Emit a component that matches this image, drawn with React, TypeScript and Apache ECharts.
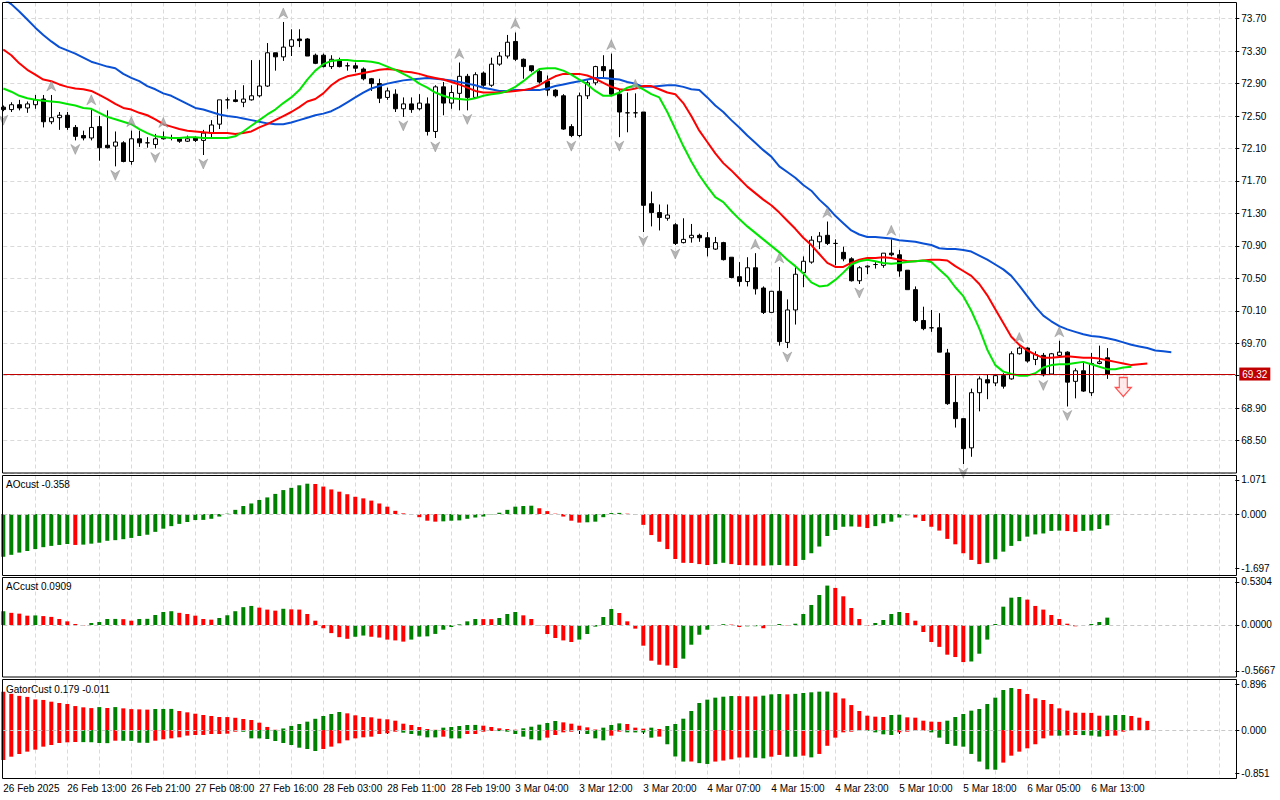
import React, { useEffect, useRef } from "react";
import * as echarts from "echarts";

// ---------- data ----------
const timeLabels = [
  "26 Feb 2025", "26 Feb 13:00", "26 Feb 21:00", "27 Feb 08:00", "27 Feb 16:00",
  "28 Feb 03:00", "28 Feb 11:00", "28 Feb 19:00", "3 Mar 04:00", "3 Mar 12:00",
  "3 Mar 20:00", "4 Mar 07:00", "4 Mar 15:00", "4 Mar 23:00", "5 Mar 10:00",
  "5 Mar 18:00", "6 Mar 05:00", "6 Mar 13:00",
];
const LABEL_STEP = 8; // one time label every 8 bars
const GRID_STEP = 4; // one vertical grid line every 4 bars
const SLOT_COUNT = 155; // bar slots on the time axis (incl. empty future slots)

// [open, high, low, close]
const ohlc: [number, number, number, number][] = [
  [72.61, 72.63, 72.56, 72.58], [72.58, 72.67, 72.55, 72.64], [72.64, 72.70, 72.57, 72.60], [72.60, 72.68, 72.54, 72.65],
  [72.64, 72.76, 72.59, 72.70], [72.71, 72.76, 72.36, 72.43], [72.43, 72.76, 72.40, 72.48], [72.48, 72.55, 72.33, 72.51],
  [72.51, 72.55, 72.33, 72.36], [72.36, 72.39, 72.20, 72.25], [72.26, 72.32, 72.20, 72.23], [72.23, 72.59, 72.20, 72.36],
  [72.37, 72.50, 71.95, 72.11], [72.14, 72.57, 72.10, 72.11], [72.13, 72.31, 71.88, 72.18], [72.17, 72.19, 71.93, 71.94],
  [71.94, 72.32, 71.90, 72.22], [72.22, 72.32, 72.12, 72.17], [72.17, 72.24, 72.11, 72.17], [72.15, 72.28, 72.10, 72.22],
  [72.24, 72.31, 72.21, 72.22], [72.23, 72.27, 72.20, 72.23], [72.22, 72.24, 72.17, 72.19], [72.19, 72.26, 72.18, 72.22],
  [72.23, 72.25, 72.18, 72.20], [72.20, 72.33, 72.02, 72.29], [72.29, 72.45, 72.24, 72.39], [72.40, 72.70, 72.34, 72.70],
  [72.70, 72.73, 72.59, 72.70], [72.70, 72.82, 72.67, 72.68], [72.67, 72.88, 72.61, 72.71], [72.70, 73.19, 72.69, 72.75],
  [72.75, 73.19, 72.73, 72.87], [72.87, 73.40, 72.86, 73.28], [73.28, 73.28, 73.06, 73.23], [73.23, 73.66, 73.18, 73.35],
  [73.36, 73.57, 73.24, 73.44], [73.45, 73.57, 73.35, 73.43], [73.45, 73.46, 73.24, 73.24], [73.25, 73.27, 73.14, 73.15],
  [73.25, 73.27, 73.10, 73.11], [73.11, 73.25, 73.08, 73.20], [73.18, 73.22, 73.10, 73.11], [73.12, 73.16, 73.06, 73.12],
  [73.12, 73.16, 73.04, 73.09], [73.08, 73.10, 72.94, 72.96], [72.96, 72.97, 72.81, 72.90], [72.90, 72.96, 72.66, 72.72],
  [72.73, 72.85, 72.70, 72.81], [72.77, 72.83, 72.55, 72.59], [72.59, 72.73, 72.49, 72.65], [72.65, 72.73, 72.54, 72.58],
  [72.59, 72.77, 72.57, 72.66], [72.65, 72.73, 72.26, 72.31], [72.31, 72.88, 72.23, 72.86], [72.86, 72.92, 72.51, 72.66],
  [72.66, 72.88, 72.59, 72.79], [72.78, 73.16, 72.57, 72.99], [72.99, 73.02, 72.57, 72.73], [72.73, 73.04, 72.73, 73.01],
  [73.03, 73.05, 72.86, 72.88], [72.88, 73.22, 72.86, 73.14], [73.14, 73.29, 73.12, 73.24], [73.24, 73.50, 73.21, 73.41],
  [73.42, 73.53, 73.18, 73.20], [73.20, 73.21, 72.96, 73.11], [73.12, 73.12, 73.04, 73.06], [73.05, 73.08, 72.90, 72.92],
  [72.93, 73.00, 72.75, 72.82], [72.82, 72.83, 72.73, 72.75], [72.75, 72.77, 72.33, 72.34], [72.37, 72.40, 72.24, 72.26],
  [72.26, 72.79, 72.24, 72.75], [72.75, 72.94, 72.71, 72.91], [72.91, 73.12, 72.88, 73.11], [73.11, 73.25, 72.96, 73.06],
  [73.07, 73.27, 72.75, 72.77], [72.77, 72.83, 72.24, 72.55], [72.54, 72.79, 72.30, 72.54], [72.54, 72.78, 72.48, 72.54],
  [72.55, 72.55, 71.07, 71.40], [71.42, 71.57, 71.14, 71.31], [71.31, 71.41, 71.09, 71.25], [71.24, 71.41, 71.21, 71.28],
  [71.16, 71.18, 70.91, 70.93], [70.94, 71.24, 70.93, 70.98], [71.00, 71.17, 70.94, 71.03], [71.03, 71.05, 70.95, 71.00],
  [71.00, 71.07, 70.77, 70.88], [70.86, 71.01, 70.85, 70.94], [70.94, 70.95, 70.72, 70.73], [70.76, 70.76, 70.50, 70.51],
  [70.52, 70.70, 70.40, 70.46], [70.46, 70.76, 70.40, 70.63], [70.63, 70.81, 70.30, 70.37], [70.38, 70.40, 70.06, 70.08],
  [70.08, 70.34, 70.08, 70.34], [70.34, 70.64, 69.67, 69.72], [69.71, 70.24, 69.64, 70.11], [70.11, 70.64, 69.93, 70.55],
  [70.57, 70.77, 70.39, 70.71], [70.70, 71.02, 70.68, 70.97], [70.95, 71.07, 70.86, 71.02], [71.03, 71.20, 70.91, 70.93],
  [70.93, 70.98, 70.66, 70.93], [70.82, 70.89, 70.71, 70.74], [70.74, 70.76, 70.46, 70.47], [70.47, 70.65, 70.43, 70.63],
  [70.64, 70.66, 70.55, 70.65], [70.67, 70.70, 70.62, 70.67], [70.66, 70.81, 70.63, 70.81], [70.81, 70.98, 70.77, 70.79],
  [70.79, 70.85, 70.52, 70.59], [70.60, 70.60, 70.36, 70.36], [70.36, 70.40, 69.96, 69.98], [69.98, 70.15, 69.86, 69.88],
  [69.89, 70.11, 69.84, 69.89], [69.89, 70.07, 69.59, 69.59], [69.58, 69.63, 68.94, 68.955], [68.97, 69.30, 68.66, 68.77],
  [68.77, 68.77, 68.21, 68.40], [68.41, 69.14, 68.30, 69.09], [69.09, 69.29, 68.86, 69.26], [69.25, 69.31, 69.01, 69.21],
  [69.21, 69.32, 69.17, 69.30], [69.30, 69.33, 69.14, 69.17], [69.26, 69.60, 69.25, 69.57], [69.57, 69.66, 69.56, 69.64],
  [69.64, 69.65, 69.46, 69.48], [69.50, 69.60, 69.43, 69.56], [69.55, 69.58, 69.29, 69.31], [69.32, 69.58, 69.31, 69.57],
  [69.55, 69.73, 69.54, 69.59], [69.59, 69.60, 68.92, 69.22], [69.23, 69.39, 69.02, 69.36], [69.36, 69.48, 69.10, 69.11],
  [69.09, 69.58, 69.05, 69.45], [69.45, 69.67, 69.44, 69.47], [69.52, 69.64, 69.26, 69.32],
];

// Alligator lines (already shifted forward)
const jaw = [
  73.95, 73.88, 73.79, 73.69, 73.59, 73.50, 73.42, 73.35, 73.31, 73.27,
  73.22, 73.17, 73.14, 73.11, 73.09, 73.02, 72.97, 72.93, 72.87, 72.83,
  72.78, 72.75, 72.70, 72.65, 72.60, 72.58, 72.55, 72.52, 72.50, 72.49,
  72.47, 72.45, 72.43, 72.41, 72.40, 72.40, 72.42, 72.45, 72.48, 72.51,
  72.53, 72.56, 72.61, 72.67, 72.73, 72.79, 72.84, 72.87, 72.90, 72.92,
  72.94, 72.95, 72.96, 72.97, 72.96, 72.95, 72.94, 72.92, 72.90, 72.88,
  72.85, 72.83, 72.81, 72.81, 72.82, 72.82, 72.82, 72.82, 72.84, 72.87,
  72.89, 72.91, 72.93, 72.95, 72.97, 72.97, 72.96, 72.95, 72.92, 72.90,
  72.86, 72.86, 72.87, 72.88, 72.88, 72.86, 72.83, 72.82, 72.73, 72.63,
  72.55, 72.45, 72.36, 72.26, 72.17, 72.08, 72.00, 71.88, 71.81, 71.74,
  71.65, 71.58, 71.47, 71.38, 71.27, 71.18, 71.09, 71.04, 71.01, 71.01,
  71.00, 70.99, 70.97, 70.96, 70.95, 70.93, 70.91, 70.87, 70.86, 70.86,
  70.85, 70.83, 70.78, 70.73, 70.67, 70.61, 70.53, 70.41, 70.28, 70.15,
  70.04, 69.97, 69.91, 69.87, 69.84, 69.81, 69.79, 69.78, 69.76, 69.74,
  69.71, 69.68, 69.66, 69.64, 69.61, 69.60, 69.59,
];
const teeth = [
  73.32, 73.25, 73.15, 73.07, 73.01, 72.95, 72.93, 72.89, 72.86, 72.84,
  72.83, 72.81, 72.76, 72.71, 72.65, 72.60, 72.58, 72.54, 72.51, 72.46,
  72.40, 72.37, 72.34, 72.32, 72.31, 72.30, 72.29, 72.29, 72.29, 72.28,
  72.29, 72.31, 72.36, 72.40, 72.45, 72.50, 72.55, 72.61, 72.68, 72.71,
  72.78, 72.88, 72.95, 72.99, 73.01, 73.03, 73.05, 73.07, 73.08, 73.07,
  73.05, 73.04, 73.02, 72.99, 72.97, 72.95, 72.92, 72.89, 72.85, 72.81,
  72.79, 72.79, 72.79, 72.80, 72.81, 72.82, 72.84, 72.88, 72.94, 72.99,
  73.02, 73.02, 73.02, 73.00, 72.96, 72.91, 72.86, 72.83, 72.82, 72.84,
  72.87, 72.87, 72.83, 72.79, 72.77, 72.66, 72.50, 72.32, 72.18, 72.04,
  71.92, 71.83, 71.73, 71.63, 71.55, 71.47, 71.40, 71.31, 71.21, 71.11,
  71.00, 70.91, 70.80, 70.69, 70.64, 70.64, 70.69, 70.73, 70.75, 70.75,
  70.76, 70.75, 70.73, 70.71, 70.71, 70.72, 70.73, 70.73, 70.72, 70.65,
  70.59, 70.53, 70.43, 70.29, 70.12, 69.95, 69.78, 69.68, 69.61, 69.56,
  69.52, 69.52, 69.53, 69.54, 69.53, 69.52, 69.52, 69.51, 69.49, 69.47,
  69.45, 69.43, 69.44, 69.45,
];
const lips = [
  72.84, 72.80, 72.75, 72.72, 72.70, 72.69, 72.68, 72.67, 72.65, 72.63,
  72.60, 72.59, 72.54, 72.49, 72.46, 72.43, 72.40, 72.34, 72.29, 72.25,
  72.24, 72.23, 72.23, 72.24, 72.24, 72.23, 72.23, 72.23, 72.23, 72.25,
  72.31, 72.38, 72.45, 72.52, 72.58, 72.66, 72.73, 72.82, 72.95, 73.06,
  73.14, 73.18, 73.19, 73.19, 73.18, 73.18, 73.17, 73.15, 73.11, 73.07,
  73.02, 72.97, 72.90, 72.85, 72.79, 72.75, 72.72, 72.71, 72.70, 72.72,
  72.75, 72.77, 72.78, 72.81, 72.86, 72.93, 73.01, 73.08, 73.09, 73.09,
  73.06, 73.01, 72.95, 72.89, 72.81, 72.75, 72.75, 72.79, 72.85, 72.88,
  72.83, 72.77, 72.73, 72.55, 72.34, 72.13, 71.94, 71.77, 71.63, 71.50,
  71.44, 71.33, 71.23, 71.14, 71.06, 70.98, 70.90, 70.82, 70.73, 70.65,
  70.56, 70.45, 70.40, 70.41, 70.48, 70.57, 70.67, 70.71, 70.73, 70.71,
  70.69, 70.68, 70.69, 70.70, 70.71, 70.72, 70.70, 70.61, 70.52, 70.39,
  70.28, 70.10, 69.88, 69.62, 69.43, 69.35, 69.32, 69.30, 69.30, 69.33,
  69.40, 69.43, 69.44, 69.44, 69.455, 69.47, 69.44, 69.41, 69.38, 69.38,
  69.40, 69.41,
];

const fractalUpBars = [6, 11, 16, 20, 35, 57, 64, 76, 79, 94, 97, 103, 111, 127, 132];
const fractalDownBars = [0, 9, 14, 19, 25, 50, 54, 58, 71, 77, 80, 84, 98, 107, 120, 130, 133];
const lastPrice = 69.32;
const signalBar = 140;
const signalPrice = 69.16;

const ao = [
  -1.34, -1.28, -1.21, -1.16, -1.10, -1.04, -1.00, -0.97, -0.94, -0.97,
  -0.96, -0.93, -0.90, -0.84, -0.82, -0.79, -0.75, -0.69, -0.65, -0.56,
  -0.46, -0.38, -0.31, -0.25, -0.19, -0.185, -0.15, -0.08, 0.01, 0.13,
  0.25, 0.33, 0.44, 0.52, 0.63, 0.75, 0.82, 0.90, 0.95, 0.94,
  0.86, 0.77, 0.70, 0.62, 0.54, 0.49, 0.42, 0.33, 0.23, 0.10,
  0.02, -0.01, -0.10, -0.21, -0.24, -0.23, -0.21, -0.20, -0.15, -0.11,
  -0.08, -0.01, 0.04, 0.13, 0.23, 0.25, 0.26, 0.18, 0.09, 0.01,
  -0.08, -0.21, -0.27, -0.26, -0.24, -0.10, 0.03, 0.035, 0.01, -0.02,
  -0.34, -0.66, -0.87, -1.10, -1.41, -1.53, -1.535, -1.57, -1.60, -1.57,
  -1.53, -1.57, -1.60, -1.605, -1.61, -1.62, -1.61, -1.60, -1.62, -1.63,
  -1.44, -1.23, -1.02, -0.69, -0.50, -0.40, -0.39, -0.40, -0.44, -0.38,
  -0.29, -0.24, -0.11, -0.04, -0.11, -0.22, -0.40, -0.52, -0.78, -0.95,
  -1.23, -1.44, -1.57, -1.53, -1.42, -1.18, -1.00, -0.85, -0.71, -0.64,
  -0.61, -0.53, -0.52, -0.535, -0.56, -0.53, -0.52, -0.47, -0.358,
];
const ac = [
  0.17, 0.15, 0.14, 0.115, 0.118, 0.11, 0.10, 0.074, 0.045, 0.012,
  -0.005, 0.025, 0.037, 0.074, 0.075, 0.072, 0.053, 0.074, 0.076, 0.123,
  0.16, 0.17, 0.15, 0.136, 0.115, 0.074, 0.066, 0.086, 0.12, 0.17,
  0.22, 0.235, 0.214, 0.19, 0.177, 0.20, 0.193, 0.19, 0.136, 0.053,
  -0.04, -0.10, -0.15, -0.17, -0.145, -0.13, -0.145, -0.155, -0.18, -0.19,
  -0.205, -0.18, -0.144, -0.14, -0.11, -0.058, -0.025, 0.008, 0.045, 0.074,
  0.073, 0.072, 0.086, 0.136, 0.16, 0.119, 0.074, -0.004, -0.111, -0.16,
  -0.19, -0.21, -0.18, -0.111, -0.02, 0.099, 0.197, 0.148, 0.045, -0.045,
  -0.255, -0.44, -0.49, -0.50, -0.53, -0.415, -0.243, -0.12, -0.058, 0.0,
  0.01, 0.005, -0.025, -0.016, -0.015, -0.04, -0.004, 0.012, -0.004, 0.016,
  0.136, 0.247, 0.37, 0.486, 0.457, 0.354, 0.21, 0.074, -0.008, 0.025,
  0.062, 0.136, 0.16, 0.148, 0.053, -0.086, -0.21, -0.27, -0.366, -0.395,
  -0.457, -0.45, -0.354, -0.18, 0.012, 0.226, 0.337, 0.345, 0.313, 0.235,
  0.19, 0.123, 0.074, 0.016, -0.016, 0.0, 0.012, 0.037, 0.0909,
];
const gatorUp = [
  0.75, 0.71, 0.67, 0.65, 0.60, 0.59, 0.556, 0.53, 0.51, 0.47,
  0.445, 0.43, 0.45, 0.432, 0.45, 0.425, 0.41, 0.405, 0.40, 0.412,
  0.413, 0.414, 0.373, 0.347, 0.32, 0.295, 0.275, 0.255, 0.254, 0.24,
  0.216, 0.196, 0.144, 0.06, 0.005, 0.03, 0.08, 0.118, 0.164, 0.22,
  0.275, 0.314, 0.353, 0.327, 0.288, 0.255, 0.249, 0.222, 0.21, 0.183,
  0.124, 0.098, 0.059, 0.02, 0.004, 0.046, 0.059, 0.079, 0.098, 0.10,
  0.085, 0.059, 0.033, 0.02, 0.005, 0.033, 0.065, 0.105, 0.137, 0.177,
  0.15, 0.124, 0.085, 0.052, 0.01, 0.046, 0.098, 0.13, 0.118, 0.046,
  0.026, 0.046, 0.02, 0.079, 0.118, 0.222, 0.373, 0.53, 0.596, 0.635,
  0.654, 0.667, 0.666, 0.661, 0.659, 0.674, 0.70, 0.707, 0.70, 0.71,
  0.726, 0.74, 0.753, 0.755, 0.733, 0.62, 0.49, 0.373, 0.281, 0.262,
  0.255, 0.295, 0.30, 0.249, 0.242, 0.183, 0.164, 0.160, 0.183, 0.255,
  0.314, 0.38, 0.412, 0.51, 0.635, 0.785, 0.825, 0.805, 0.707, 0.622,
  0.589, 0.51, 0.425, 0.38, 0.34, 0.338, 0.336, 0.281, 0.283, 0.294,
  0.295, 0.275, 0.242, 0.179,
];
const gatorDown = [
  -0.589, -0.524, -0.471, -0.425, -0.386, -0.327, -0.295, -0.255, -0.242, -0.236,
  -0.238, -0.240, -0.255, -0.258, -0.210, -0.212, -0.214, -0.250, -0.252, -0.210,
  -0.183, -0.164, -0.144, -0.110, -0.098, -0.097, -0.079, -0.078, -0.072, -0.033,
  -0.035, -0.164, -0.165, -0.177, -0.216, -0.255, -0.295, -0.347, -0.373, -0.412,
  -0.373, -0.327, -0.262, -0.203, -0.164, -0.144, -0.131, -0.079, -0.065, -0.033,
  -0.052, -0.079, -0.111, -0.144, -0.145, -0.131, -0.164, -0.165, -0.079, -0.078,
  -0.033, -0.020, -0.021, -0.033, -0.079, -0.131, -0.183, -0.203, -0.150, -0.098,
  -0.046, -0.033, -0.020, -0.079, -0.164, -0.203, -0.111, -0.033, -0.046, -0.047,
  -0.048, -0.15, -0.13, -0.28, -0.52, -0.62, -0.619, -0.65, -0.667, -0.62,
  -0.60, -0.576, -0.54, -0.539, -0.545, -0.556, -0.524, -0.49, -0.524, -0.525,
  -0.504, -0.537, -0.47, -0.31, -0.15, -0.046, -0.033, -0.01, -0.02, -0.046,
  -0.085, -0.098, -0.046, -0.033, -0.02, -0.015, -0.046, -0.15, -0.275, -0.31,
  -0.327, -0.47, -0.62, -0.772, -0.78, -0.64, -0.504, -0.425, -0.36, -0.28,
  -0.164, -0.11, -0.112, -0.105, -0.098, -0.10, -0.11, -0.13, -0.12, -0.11,
  -0.033, -0.011,
];

// axis tick values
const PRICE_MIN = 68.1;
const PRICE_MAX = 73.9;
const PRICE_STEP = 0.4;
const aoTicks = [1.071, 0, -1.697];
const acTicks = [0.5304, 0, -0.5667];
const gatorTicks = [0.896, 0, -0.851];

// ---------- styling / layout ----------
const FONT = '"Liberation Sans", Arial, sans-serif';
const GREEN = "#008000";
const RED = "#ff0000";
const GRID_COLOR = "#dadada";
const X0 = 3.3;
const BAR_STEP = 8;
const BORDER_L = 2.5;
const BORDER_R = 1236.5;
const panels = [
  { top: 2.5, bottom: 473, min: PRICE_MIN, max: PRICE_MAX },
  { top: 475.5, bottom: 575.5, min: -1.928, max: 1.207 },
  { top: 577.5, bottom: 677, min: -0.6412, max: 0.5857 },
  { top: 679.5, bottom: 778.5, min: -0.9523, max: 0.9916 },
];

const categories = Array.from({ length: SLOT_COUNT }, (_, i) => String(i));
const labelInterval = (i: number) => i % LABEL_STEP === 0 && i / LABEL_STEP < timeLabels.length;
const gridInterval = (i: number) => i > 0 && i % GRID_STEP === 0;

function colored(values: number[], firstUp: boolean, useAbs: boolean) {
  return values.map((v, i) => {
    let up = firstUp;
    if (i > 0) {
      const a = useAbs ? Math.abs(v) : v;
      const b = useAbs ? Math.abs(values[i - 1]) : values[i - 1];
      up = a > b;
    }
    return { value: v, itemStyle: { color: up ? GREEN : RED } };
  });
}

function buildOption(): any {
  const grids = panels.map((p) => ({
    left: X0,
    top: p.top,
    width: BAR_STEP * (SLOT_COUNT - 1),
    height: p.bottom - p.top,
    containLabel: false,
    outerBoundsMode: "none",
    show: false,
  }));

  const xAxes = panels.map((_, gi) => ({
    type: "category",
    gridIndex: gi,
    data: categories,
    boundaryGap: false,
    axisLine: { show: false },
    axisTick:
      gi === 3
        ? { show: true, interval: labelInterval, length: 4, lineStyle: { color: "#000", width: 1 } }
        : { show: false },
    axisLabel:
      gi === 3
        ? {
            show: true,
            interval: labelInterval,
            formatter: (_v: string, i: number) =>
              i % LABEL_STEP === 0 ? timeLabels[i / LABEL_STEP] ?? "" : "",
            align: "left",
            margin: 5,
            fontFamily: FONT,
            fontSize: 10,
            color: "#000",
          }
        : { show: false },
    splitLine: {
      show: true,
      interval: gridInterval,
      lineStyle: { color: GRID_COLOR, type: [4, 3], width: 1 },
    },
  }));

  const subAxis = (gi: number, ticks: number[], digits: number) => ({
    type: "value",
    gridIndex: gi,
    position: "right",
    min: panels[gi].min,
    max: panels[gi].max,
    axisLine: { show: false },
    axisTick: { show: true, customValues: ticks, length: 4, lineStyle: { color: "#000" } },
    axisLabel: {
      show: true,
      customValues: ticks,
      formatter: (v: number) => Number(v).toFixed(digits),
      margin: 6,
      fontFamily: FONT,
      fontSize: 10,
      color: "#000",
    },
    splitLine: { show: false },
  });

  const yAxes = [
    {
      type: "value",
      gridIndex: 0,
      position: "right",
      min: PRICE_MIN,
      max: PRICE_MAX,
      interval: PRICE_STEP,
      axisLine: { show: false },
      axisTick: { show: true, length: 4, lineStyle: { color: "#000" } },
      axisLabel: {
        show: true,
        showMinLabel: false,
        showMaxLabel: false,
        formatter: (v: number) => Number(v).toFixed(2),
        margin: 6,
        fontFamily: FONT,
        fontSize: 10,
        color: "#000",
      },
      splitLine: { show: true, lineStyle: { color: GRID_COLOR, type: [4, 3], width: 1 } },
    },
    subAxis(1, aoTicks, 3),
    subAxis(2, acTicks, 4),
    subAxis(3, gatorTicks, 3),
  ];

  const zeroLine = {
    silent: true,
    symbol: ["none", "none"],
    label: { show: false },
    lineStyle: { color: "#c8c8c8", type: [4, 3], width: 1 },
    data: [{ yAxis: 0 }],
  };

  const upArrow = "path://M5,0L10,10L5,7L0,10Z";
  const downArrow = "path://M0,0L5,3L10,0L5,10Z";
  const signalArrow = "path://M4,0L12,0L12,10L16,10L8,19L0,10L4,10Z";

  const series: any[] = [
    {
      type: "candlestick",
      xAxisIndex: 0,
      yAxisIndex: 0,
      data: ohlc.map(([o, h, l, c]) => [o, c, l, h]),
      barWidth: 4,
      clip: false,
      itemStyle: {
        color: "#ffffff",
        color0: "#000000",
        borderColor: "#000000",
        borderColor0: "#000000",
        borderWidth: 1,
      },
      markLine: {
        silent: true,
        symbol: ["none", "none"],
        lineStyle: { color: "#c00000", type: "solid", width: 1 },
        label: {
          show: true,
          position: "end",
          formatter: lastPrice.toFixed(2),
          color: "#ffffff",
          backgroundColor: "#c00000",
          padding: [2, 3, 1, 3],
          distance: 4,
          fontFamily: FONT,
          fontSize: 10,
        },
        data: [{ yAxis: lastPrice }],
      },
      z: 2,
    },
    {
      type: "line",
      xAxisIndex: 0,
      yAxisIndex: 0,
      data: jaw,
      symbol: "none",
      lineStyle: { color: "#0a50d4", width: 2 },
      z: 3,
    },
    {
      type: "line",
      xAxisIndex: 0,
      yAxisIndex: 0,
      data: teeth,
      symbol: "none",
      lineStyle: { color: "#ff0000", width: 2 },
      z: 3,
    },
    {
      type: "line",
      xAxisIndex: 0,
      yAxisIndex: 0,
      data: lips,
      symbol: "none",
      lineStyle: { color: "#00e600", width: 2 },
      z: 3,
    },
    {
      type: "scatter",
      xAxisIndex: 0,
      yAxisIndex: 0,
      data: fractalUpBars.map((b) => [b, ohlc[b][1]]),
      symbol: upArrow,
      symbolSize: [9, 10],
      symbolOffset: [0, -9],
      clip: false,
      itemStyle: { color: "#a4a4a4", borderColor: "#808080", borderWidth: 0.5 },
      z: 4,
    },
    {
      type: "scatter",
      xAxisIndex: 0,
      yAxisIndex: 0,
      data: fractalDownBars.map((b) => [b, ohlc[b][2]]),
      symbol: downArrow,
      symbolSize: [9, 10],
      symbolOffset: [0, 9],
      clip: false,
      itemStyle: { color: "#a4a4a4", borderColor: "#808080", borderWidth: 0.5 },
      z: 4,
    },
    {
      type: "scatter",
      xAxisIndex: 0,
      yAxisIndex: 0,
      data: [[signalBar, signalPrice]],
      symbol: signalArrow,
      symbolSize: [16, 19],
      clip: false,
      itemStyle: { color: "#ffe6e6", borderColor: "#ff2a2a", borderWidth: 1.2 },
      z: 4,
    },
    {
      type: "bar",
      xAxisIndex: 1,
      yAxisIndex: 1,
      data: colored(ao, true, false),
      barWidth: 4,
      clip: false,
      markLine: zeroLine,
    },
    {
      type: "bar",
      xAxisIndex: 2,
      yAxisIndex: 2,
      data: colored(ac, true, false),
      barWidth: 4,
      clip: false,
      markLine: zeroLine,
    },
    {
      type: "bar",
      xAxisIndex: 3,
      yAxisIndex: 3,
      data: colored(gatorUp, false, true),
      barWidth: 4,
      barGap: "-100%",
      clip: false,
      markLine: zeroLine,
    },
    {
      type: "bar",
      xAxisIndex: 3,
      yAxisIndex: 3,
      data: colored(gatorDown, false, true),
      barWidth: 4,
      barGap: "-100%",
      clip: false,
    },
  ];

  const borders = panels.map((p) => ({
    type: "rect",
    shape: { x: BORDER_L, y: p.top, width: BORDER_R - BORDER_L, height: p.bottom - p.top },
    style: { fill: "none", stroke: "#000", lineWidth: 1 },
    silent: true,
    z: 100,
  }));

  const title = (text: string, y: number) => ({
    type: "text",
    x: 6,
    y,
    style: {
      text,
      fill: "#000",
      font: `10px ${FONT}`,
      verticalAlign: "middle",
      align: "left",
    },
    silent: true,
    z: 101,
  });

  return {
    animation: false,
    backgroundColor: "#ffffff",
    textStyle: { fontFamily: FONT },
    grid: grids,
    xAxis: xAxes,
    yAxis: yAxes,
    series,
    graphic: [
      ...borders,
      title(`AOcust ${ao[ao.length - 1]}`, 484.5),
      title(`ACcust ${ac[ac.length - 1]}`, 586.5),
      title(`GatorCust ${gatorUp[gatorUp.length - 1]} ${gatorDown[gatorDown.length - 1]}`, 689),
    ],
  };
}

export default function App() {
  const ref = useRef<HTMLDivElement>(null);
  useEffect(() => {
    if (!ref.current) return;
    const chart = echarts.init(ref.current, undefined, { renderer: "svg" });
    chart.setOption(buildOption());
    return () => chart.dispose();
  }, []);
  return (
    <div
      ref={ref}
      style={{ position: "fixed", left: 0, top: 0, width: 1280, height: 800, background: "#fff" }}
    />
  );
}
